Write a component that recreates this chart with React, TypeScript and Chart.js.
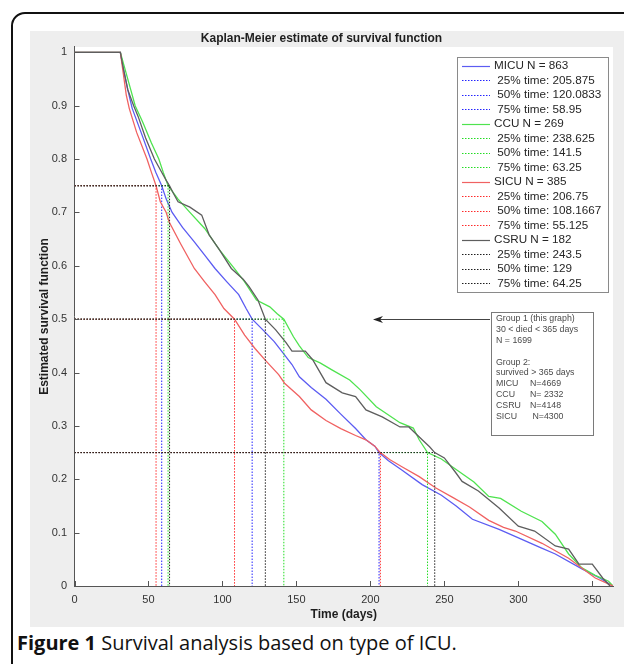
import React, { useEffect, useRef } from 'react';
import { Chart, registerables } from 'chart.js';

Chart.register(...registerables);

// ---------- data ----------
const X_TICKS = [0, 50, 100, 150, 200, 250, 300, 350];
const Y_TICKS = [0, 0.1, 0.2, 0.3, 0.4, 0.5, 0.6, 0.7, 0.8, 0.9, 1];
const QUARTILE_LEVELS = [0.25, 0.5, 0.75];
const QUARTILE_NAMES = ['25% time', '50% time', '75% time'];

const GROUPS = ['MICU', 'CCU', 'SICU', 'CSRU'];
const GROUP_N = [863, 269, 385, 182];

const MICU_DAYS = [0, 31, 33, 36, 39, 45, 51.5, 55, 58.95, 62, 66, 73, 81, 88, 95, 103, 111, 116, 120.0833, 128, 135, 140, 147, 152, 160, 170, 180, 190, 197, 203, 205.875, 212, 221, 235, 248, 258, 269, 287, 302, 315, 325, 343, 355, 364];
const MICU_SURV = [1, 1, 0.97, 0.93, 0.895, 0.85, 0.8, 0.775, 0.75, 0.725, 0.7, 0.672, 0.645, 0.62, 0.595, 0.57, 0.546, 0.52, 0.5, 0.478, 0.458, 0.44, 0.415, 0.392, 0.372, 0.35, 0.322, 0.295, 0.274, 0.262, 0.25, 0.235, 0.218, 0.19, 0.17, 0.15, 0.125, 0.106, 0.088, 0.072, 0.06, 0.032, 0.015, 0];

const CCU_DAYS = [0, 31, 34, 38, 41, 46, 52, 57, 60, 63.25, 70, 78, 88, 98, 108, 115, 123, 132, 137, 141.5, 148, 152, 158, 166, 174, 186, 193, 204, 220, 229, 233, 238.625, 248, 257, 270, 280, 288, 302, 316, 325, 334, 343, 352, 361, 364];
const CCU_SURV = [1, 1, 0.97, 0.93, 0.9, 0.87, 0.83, 0.8, 0.775, 0.75, 0.725, 0.7, 0.67, 0.63, 0.595, 0.57, 0.536, 0.523, 0.51, 0.5, 0.467, 0.45, 0.428, 0.418, 0.405, 0.386, 0.368, 0.336, 0.306, 0.296, 0.274, 0.25, 0.238, 0.22, 0.195, 0.168, 0.164, 0.14, 0.121, 0.097, 0.06, 0.034, 0.02, 0.009, 0];

const SICU_DAYS = [0, 31, 33, 35, 37, 42, 49, 52, 55.125, 58, 62, 64, 72, 81, 88, 95, 101, 108.1667, 115, 122, 130, 138, 142, 152, 160, 170, 180, 190, 197, 203, 206.75, 213, 221, 233, 244, 255, 267, 280, 290, 298, 316, 334, 352, 364];
const SICU_SURV = [1, 1, 0.96, 0.92, 0.895, 0.85, 0.8, 0.775, 0.75, 0.72, 0.7, 0.682, 0.64, 0.595, 0.57, 0.546, 0.52, 0.5, 0.47, 0.445, 0.42, 0.396, 0.38, 0.355, 0.33, 0.31, 0.295, 0.282, 0.274, 0.262, 0.25, 0.237, 0.224, 0.205, 0.184, 0.167, 0.148, 0.123, 0.11, 0.103, 0.08, 0.052, 0.015, 0];

const CSRU_DAYS = [0, 31, 33, 36, 40, 43, 48, 54, 58, 62, 64.25, 67, 70, 78, 86, 91, 98, 106, 114, 118, 124, 129, 136, 143, 147, 156, 161, 170, 181, 190, 197, 208, 220, 226, 235, 240, 243.5, 250, 257, 262, 273, 287, 300, 311, 325, 334, 341, 350, 357, 362];
const CSRU_SURV = [1, 1, 0.97, 0.93, 0.9, 0.88, 0.84, 0.8, 0.78, 0.76, 0.75, 0.735, 0.72, 0.71, 0.695, 0.658, 0.63, 0.595, 0.575, 0.561, 0.536, 0.5, 0.48, 0.456, 0.44, 0.44, 0.424, 0.381, 0.362, 0.355, 0.33, 0.317, 0.298, 0.298, 0.274, 0.261, 0.25, 0.24, 0.215, 0.196, 0.178, 0.146, 0.112, 0.103, 0.075, 0.069, 0.041, 0.041, 0.015, 0];

const MICU_QT = [205.875, 120.0833, 58.95];
const CCU_QT = [238.625, 141.5, 63.25];
const SICU_QT = [206.75, 108.1667, 55.125];
const CSRU_QT = [243.5, 129, 64.25];

const GROUP1_LINES = ['Group 1 (this graph)', '30 < died < 365 days', 'N = 1699'];
const GROUP2_HEADER = ['Group 2:', 'survived > 365 days'];
const GROUP2_NAMES = ['MICU', 'CCU', 'CSRU', 'SICU'];
const GROUP2_N = ['N=4669', 'N= 2332', 'N=4148', ' N=4300'];

const CURVE_COLORS = ['#5c5cf2', '#4fe34f', '#f06262', '#5e5e5e'];
const QUART_COLORS = ['#2424ff', '#22dd22', '#ff2a2a', '#1e1e1e'];

// ---------- build datasets ----------
const ALL_DAYS = [MICU_DAYS, CCU_DAYS, SICU_DAYS, CSRU_DAYS];
const ALL_SURV = [MICU_SURV, CCU_SURV, SICU_SURV, CSRU_SURV];
const ALL_QT = [MICU_QT, CCU_QT, SICU_QT, CSRU_QT];

function buildDatasets() {
  const ds: any[] = [];
  let idx = 0;
  GROUPS.forEach((g, gi) => {
    ds.push({
      label: `${g} N = ${GROUP_N[gi]}`,
      data: ALL_DAYS[gi].map((d, i) => ({ x: d, y: ALL_SURV[gi][i] })),
      borderColor: CURVE_COLORS[gi],
      borderWidth: 1.3,
      borderDash: [],
      pointRadius: 0,
      showLine: true,
      tension: 0,
      order: 100 - idx++,
      isMain: true,
    });
    QUARTILE_LEVELS.forEach((q, qi) => {
      const t = ALL_QT[gi][qi];
      ds.push({
        label: ` ${QUARTILE_NAMES[qi]}: ${t}`,
        data: [
          { x: 0, y: q },
          { x: t, y: q },
          { x: t, y: 0 },
        ],
        borderColor: QUART_COLORS[gi],
        borderWidth: 1,
        borderDash: [1.5, 1.5],
        pointRadius: 0,
        showLine: true,
        tension: 0,
        order: 100 - idx++,
        isMain: false,
      });
    });
  });
  return ds;
}

const FONT = '"Liberation Sans", Arial, Helvetica, sans-serif';

const decorPlugin = {
  id: 'decor',
  beforeDraw(chart: any) {
    const { ctx, chartArea: a } = chart;
    ctx.save();
    ctx.fillStyle = '#ffffff';
    ctx.fillRect(a.left, a.top, a.right - a.left, a.bottom - a.top);
    ctx.restore();
  },
  afterDraw(chart: any) {
    const { ctx, chartArea: a } = chart;
    const xs = chart.scales.x;
    const ys = chart.scales.y;
    ctx.save();
    // inward tick marks
    ctx.strokeStyle = '#555';
    ctx.lineWidth = 1;
    ctx.beginPath();
    X_TICKS.forEach((v) => {
      const px = Math.round(xs.getPixelForValue(v)) + 0.5;
      ctx.moveTo(px, a.bottom);
      ctx.lineTo(px, a.bottom - 5);
    });
    Y_TICKS.forEach((v) => {
      const py = Math.round(ys.getPixelForValue(v)) + 0.5;
      ctx.moveTo(a.left, py);
      ctx.lineTo(a.left + 5, py);
    });
    ctx.stroke();

    // legend box
    const LX = 427, LY = 26, LW = 151, LH = 235;
    ctx.fillStyle = '#ffffff';
    ctx.fillRect(LX, LY, LW, LH);
    ctx.strokeStyle = '#8a8a8a';
    ctx.lineWidth = 1;
    ctx.strokeRect(LX + 0.5, LY + 0.5, LW, LH);
    ctx.font = `11.7px ${FONT}`;
    ctx.textBaseline = 'middle';
    ctx.textAlign = 'left';
    chart.data.datasets.forEach((d: any, i: number) => {
      const y = LY + 8.5 + i * 14.5;
      ctx.beginPath();
      ctx.setLineDash(d.borderDash || []);
      ctx.strokeStyle = d.borderColor;
      ctx.lineWidth = d.isMain ? 1.2 : 1;
      ctx.moveTo(LX + 5, Math.round(y) + 0.5);
      ctx.lineTo(LX + 33, Math.round(y) + 0.5);
      ctx.stroke();
      ctx.setLineDash([]);
      ctx.fillStyle = '#262626';
      ctx.fillText(d.label, LX + 37, y + 0.5);
    });

    // annotation box
    const BX = 461, BY = 281, BW = 102, BH = 123;
    ctx.fillStyle = '#ffffff';
    ctx.fillRect(BX, BY, BW, BH);
    ctx.strokeStyle = '#7a7a7a';
    ctx.strokeRect(BX + 0.5, BY + 0.5, BW, BH);
    ctx.fillStyle = '#4a4a4a';
    ctx.font = `8.8px ${FONT}`;
    const lh = 10.9;
    let ty = BY + 6.5;
    GROUP1_LINES.forEach((t) => {
      ctx.fillText(t, BX + 5, ty);
      ty += lh;
    });
    ty += lh;
    GROUP2_HEADER.forEach((t) => {
      ctx.fillText(t, BX + 5, ty);
      ty += lh;
    });
    GROUP2_NAMES.forEach((t, i) => {
      ctx.fillText(t, BX + 5, ty);
      ctx.fillText(GROUP2_N[i], BX + 39, ty);
      ty += lh;
    });

    // arrow
    const ay = 288.5;
    ctx.strokeStyle = '#444';
    ctx.lineWidth = 1;
    ctx.beginPath();
    ctx.moveTo(BX - 1, ay);
    ctx.lineTo(346, ay);
    ctx.stroke();
    ctx.fillStyle = '#222';
    ctx.beginPath();
    ctx.moveTo(343, ay);
    ctx.lineTo(353, ay - 3.5);
    ctx.lineTo(350, ay);
    ctx.lineTo(353, ay + 3.5);
    ctx.closePath();
    ctx.fill();
    ctx.restore();
  },
};

export default function App() {
  const ref = useRef<HTMLCanvasElement | null>(null);

  useEffect(() => {
    if (!ref.current) return;
    Chart.defaults.font.family = FONT;
    const chart = new Chart(ref.current, {
      type: 'scatter',
      data: { datasets: buildDatasets() },
      options: {
        responsive: false,
        animation: false,
        devicePixelRatio: 1,
        layout: { padding: { left: 0, right: 11, top: 0, bottom: 0 } },
        plugins: {
          legend: { display: false },
          tooltip: { enabled: false },
          title: {
            display: true,
            text: 'Kaplan-Meier estimate of survival function',
            color: '#1e1e1e',
            font: { size: 12, weight: 'bold', family: FONT },
            padding: { top: 0, bottom: 1.6 },
          },
        },
        scales: {
          x: {
            type: 'linear',
            min: 0,
            max: 364,
            afterBuildTicks: (s: any) => {
              s.ticks = X_TICKS.map((v) => ({ value: v }));
            },
            afterFit: (s: any) => {
              s.height = 41;
            },
            grid: { display: false, drawTicks: false },
            border: { display: true, color: '#555', width: 1 },
            ticks: {
              color: '#333',
              font: { size: 11, family: FONT },
              padding: 7,
              maxRotation: 0,
              autoSkip: false,
              callback: (v: any) => String(v),
            },
            title: {
              display: true,
              text: 'Time (days)',
              color: '#1e1e1e',
              font: { size: 12, weight: 'bold', family: FONT },
              padding: { top: 0, bottom: 5.5 },
            },
          },
          y: {
            type: 'linear',
            min: 0,
            max: 1.01,
            afterBuildTicks: (s: any) => {
              s.ticks = Y_TICKS.map((v) => ({ value: v }));
            },
            afterFit: (s: any) => {
              s.width = 44.5;
            },
            grid: { display: false, drawTicks: false },
            border: { display: true, color: '#555', width: 1 },
            ticks: {
              color: '#333',
              font: { size: 11, family: FONT },
              padding: 7.5,
              autoSkip: false,
              callback: (v: any) => String(v),
            },
            title: {
              display: true,
              text: 'Estimated survival function',
              color: '#1e1e1e',
              font: { size: 12, weight: 'bold', family: FONT },
              padding: { top: 7, bottom: 0 },
            },
          },
        },
      } as any,
      plugins: [decorPlugin],
    });
    return () => chart.destroy();
  }, []);

  return (
    <div style={{ position: 'absolute', left: 0, top: 0, width: 624, height: 664, overflow: 'hidden', background: '#fff' }}>
      <div
        style={{
          position: 'absolute',
          left: 11,
          top: 12,
          width: 660,
          height: 700,
          border: '2px solid #111',
          borderRadius: 14,
          boxSizing: 'border-box',
        }}
      />
      <div style={{ position: 'absolute', left: 30, top: 31, width: 594, height: 596, background: '#eeeeee' }}>
        <canvas ref={ref} width={594} height={596} style={{ display: 'block', width: 594, height: 596 }} />
      </div>
      <div
        style={{
          position: 'absolute',
          left: 17,
          top: 631,
          fontFamily: '"Open Sans", "Noto Sans", sans-serif',
          fontSize: 20,
          color: '#111',
          whiteSpace: 'nowrap',
          lineHeight: '24px',
        }}
      >
        <span style={{ fontWeight: 700 }}>Figure 1</span> Survival analysis based on type of ICU.
      </div>
    </div>
  );
}
